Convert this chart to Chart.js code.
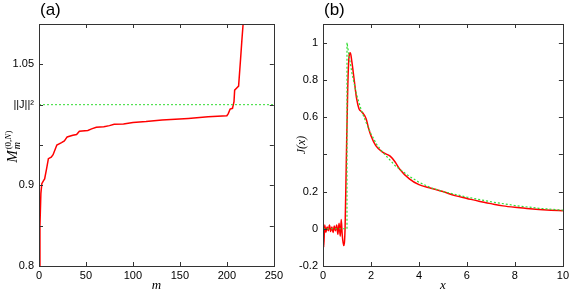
<!DOCTYPE html>
<html>
<head>
<meta charset="utf-8">
<script src="https://cdn.jsdelivr.net/npm/chart.js@4/dist/chart.umd.min.js"></script>
<style>
  body { margin: 0; background: #fff; }
  #wrap { position: relative; width: 572px; height: 291px; }
  canvas { position: absolute; top: 0; }
  #chartA { left: 0; }
  #chartB { left: 286px; }
</style>
</head>
<body>
<div id="wrap">
  <canvas id="chartA" width="286" height="291"></canvas>
  <canvas id="chartB" width="286" height="291"></canvas>
</div>
<script>
// panel (a): M_m^(0,N) against m
const mValues = [0, 1, 2, 3, 5, 6, 8, 10, 13, 15, 19, 24, 27, 30, 36, 40, 43, 52, 56, 61, 69, 75, 80, 90, 100, 114, 131, 159, 180, 200, 201.5, 203.5, 206, 207.6, 208.3, 210, 212.5, 214.5, 216, 217.3, 219];
const mSeries = [0.8, 0.85, 0.89, 0.902, 0.906, 0.908, 0.92, 0.933, 0.935, 0.938, 0.95, 0.953, 0.955, 0.96, 0.962, 0.963, 0.967, 0.968, 0.97, 0.972, 0.9727, 0.974, 0.9757, 0.976, 0.978, 0.979, 0.981, 0.983, 0.985, 0.9863, 0.989, 0.9946, 0.9955, 1.0037, 1.018, 1.02, 1.023, 1.055, 1.08, 1.1, 1.15];
const normSq = 1.0;
const xTicksA = [0, 50, 100, 150, 200, 250];
const yTicksA = [0.8, 0.85, 0.9, 0.95, 1.0, 1.05];
const yLabelsA = ['0.8', '', '0.9', '', '||J||\u00b2', '1.05'];

// panel (b): J(x), reconstruction (red) and exact (green)
const xRed = [0, 0.03, 0.07, 0.12, 0.17, 0.22, 0.27, 0.32, 0.37, 0.42, 0.47, 0.52, 0.57, 0.62, 0.67, 0.72, 0.76, 0.8, 0.86, 0.92, 0.97, 1.03, 1.09, 1.14, 1.2, 1.3, 1.4, 1.5, 1.6, 1.7, 1.8, 1.9, 2.0, 2.2, 2.5, 2.8, 3.0, 3.2, 3.6, 4.0, 4.5, 5.0, 5.5, 6.0, 6.5, 7.0, 7.5, 8.0, 8.5, 9.0, 9.5, 10];
const yRed = [0.05, -0.1, 0.02, -0.02, 0.01, -0.01, 0.02, -0.015, 0.01, -0.02, 0.015, -0.01, 0.02, -0.03, 0.03, -0.04, 0.05, -0.03, -0.09, 0.0, 0.35, 0.75, 0.93, 0.945, 0.9, 0.8, 0.7, 0.645, 0.63, 0.615, 0.59, 0.54, 0.5, 0.447, 0.41, 0.39, 0.36, 0.32, 0.268, 0.237, 0.218, 0.2, 0.178, 0.163, 0.148, 0.135, 0.123, 0.115, 0.109, 0.104, 0.1, 0.097];
const xGreen = [0, 1, 1, 1.2, 1.4, 1.6, 1.8, 2.0, 2.25, 2.5, 3.0, 3.5, 4.0, 4.5, 5.0, 6.0, 7.0, 8.0, 9.0, 10];
const yGreen = [0, 0, 1.0, 0.84, 0.72, 0.635, 0.57, 0.51, 0.45, 0.41, 0.34, 0.29, 0.25, 0.22, 0.2, 0.17, 0.145, 0.125, 0.11, 0.1];
const xTicksB = [0, 2, 4, 6, 8, 10];
const yTicksB = [-0.2, 0, 0.2, 0.4, 0.6, 0.8, 1];
const yLabelsB = ['-0.2', '0', '0.2', '', '0.6', '0.8', '1'];

Chart.defaults.font.family = '"Liberation Sans", Arial, sans-serif';
Chart.defaults.font.size = 11;
Chart.defaults.color = '#000';
Chart.defaults.devicePixelRatio = 1;

const RED = '#ff0000';
const GREEN = '#33dd33';

// gnuplot-like frame with inward ticks, plus the titles
const framePlugin = {
  id: 'frame',
  afterDraw(chart, args, opts) {
    const ctx = chart.ctx;
    const a = chart.chartArea;
    const xs = chart.scales.x, ys = chart.scales.y;
    ctx.save();
    ctx.strokeStyle = '#333';
    ctx.lineWidth = 1;
    ctx.strokeRect(Math.round(a.left) + 0.5, Math.round(a.top) + 0.5,
      Math.round(a.right - a.left), Math.round(a.bottom - a.top));
    ctx.beginPath();
    xs.ticks.forEach(t => {
      const px = Math.round(xs.getPixelForValue(t.value)) + 0.5;
      ctx.moveTo(px, a.bottom); ctx.lineTo(px, a.bottom - 4);
      ctx.moveTo(px, a.top); ctx.lineTo(px, a.top + 4);
    });
    ys.ticks.forEach(t => {
      const py = Math.round(ys.getPixelForValue(t.value)) + 0.5;
      ctx.moveTo(a.left, py); ctx.lineTo(a.left + 4, py);
      ctx.moveTo(a.right, py); ctx.lineTo(a.right - 4, py);
    });
    ctx.stroke();

    ctx.fillStyle = '#000';
    // panel letter
    ctx.font = '17px "Liberation Sans", Arial, sans-serif';
    ctx.textAlign = 'left';
    ctx.textBaseline = 'alphabetic';
    ctx.fillText(opts.panel, a.left + 1, 15);

    // x title
    ctx.font = 'italic 13px "Liberation Serif", serif';
    ctx.textAlign = 'center';
    ctx.textBaseline = 'middle';
    ctx.fillText(opts.xTitle, (a.left + a.right) / 2, 286);

    // y title, rotated
    ctx.translate(opts.yTitleX, (a.top + a.bottom) / 2);
    ctx.rotate(-Math.PI / 2);
    ctx.textBaseline = 'alphabetic';
    if (opts.yTitle === 'M') {
      ctx.font = 'italic 15px "Liberation Serif", serif';
      const wM = ctx.measureText('M').width;
      ctx.font = '9px "Liberation Serif", serif';
      const wSup = ctx.measureText('(0,N)').width;
      const total = wM + wSup;
      let x0 = -total / 2 - 2;
      ctx.textAlign = 'left';
      ctx.font = 'italic 15px "Liberation Serif", serif';
      ctx.fillText('M', x0, 0);
      ctx.font = 'italic 10px "Liberation Serif", serif';
      ctx.fillText('m', x0 + wM + 1, 3);
      ctx.font = '9px "Liberation Serif", serif';
      ctx.fillText('(0,', x0 + wM + 1, -6);
      const w1 = ctx.measureText('(0,').width;
      ctx.font = 'italic 9px "Liberation Serif", serif';
      ctx.fillText('N', x0 + wM + 1 + w1, -6);
      const w2 = ctx.measureText('N').width;
      ctx.font = '9px "Liberation Serif", serif';
      ctx.fillText(')', x0 + wM + 1 + w1 + w2, -6);
    } else {
      ctx.font = 'italic 12px "Liberation Serif", serif';
      ctx.textAlign = 'center';
      ctx.textBaseline = 'middle';
      ctx.fillText(opts.yTitle, 0, 0);
    }
    ctx.restore();
  }
};

function makeScales(xMin, xMax, xTicks, yMin, yMax, yTicks, yLabels, yWidth) {
  return {
    x: {
      type: 'linear', min: xMin, max: xMax,
      afterBuildTicks: s => { s.ticks = xTicks.map(v => ({ value: v })); },
      afterFit: s => { s.height = 25; },
      grid: { display: false, drawTicks: false },
      border: { display: false },
      ticks: { padding: 3, autoSkip: false, maxRotation: 0, callback: v => String(v) }
    },
    y: {
      type: 'linear', min: yMin, max: yMax,
      afterBuildTicks: s => { s.ticks = yTicks.map(v => ({ value: v })); },
      afterFit: s => { s.width = yWidth; },
      grid: { display: false, drawTicks: false },
      border: { display: false },
      ticks: {
        padding: 5, autoSkip: false,
        callback: v => {
          const i = yTicks.findIndex(t => Math.abs(t - v) < 1e-9);
          return i >= 0 ? yLabels[i] : '';
        }
      }
    }
  };
}

new Chart(document.getElementById('chartA'), {
  type: 'line',
  data: {
    datasets: [
      {
        data: [{ x: 0, y: normSq }, { x: 250, y: normSq }],
        borderColor: GREEN, borderWidth: 1, borderDash: [2, 2],
        pointRadius: 0, tension: 0
      },
      {
        data: mValues.map((m, i) => ({ x: m, y: mSeries[i] })),
        borderColor: RED, borderWidth: 1.5,
        pointRadius: 0, tension: 0, clip: 0
      }
    ]
  },
  options: {
    responsive: false, animation: false,
    layout: { padding: { left: 0, right: 5, top: 24, bottom: 0 } },
    plugins: {
      legend: { display: false }, tooltip: { enabled: false },
      frame: { panel: '(a)', xTitle: 'm', yTitle: 'M', yTitleX: 17 }
    },
    scales: makeScales(0, 250, xTicksA, 0.8, 1.1, yTicksA, yLabelsA, 39)
  },
  plugins: [framePlugin]
});

new Chart(document.getElementById('chartB'), {
  type: 'line',
  data: {
    datasets: [
      {
        data: xGreen.map((x, i) => ({ x: x, y: yGreen[i] })),
        borderColor: GREEN, borderWidth: 1.2, borderDash: [2, 2],
        pointRadius: 0, tension: 0
      },
      {
        data: xRed.map((x, i) => ({ x: x, y: yRed[i] })),
        borderColor: RED, borderWidth: 1.5,
        pointRadius: 0, cubicInterpolationMode: 'monotone', clip: 0
      }
    ]
  },
  options: {
    responsive: false, animation: false,
    layout: { padding: { left: 0, right: 7, top: 24, bottom: 0 } },
    plugins: {
      legend: { display: false }, tooltip: { enabled: false },
      frame: { panel: '(b)', xTitle: 'x', yTitle: 'J(x)', yTitleX: 16 }
    },
    scales: makeScales(0, 10, xTicksB, -0.2, 1.1, yTicksB, yLabelsB, 37)
  },
  plugins: [framePlugin]
});
</script>
</body>
</html>
